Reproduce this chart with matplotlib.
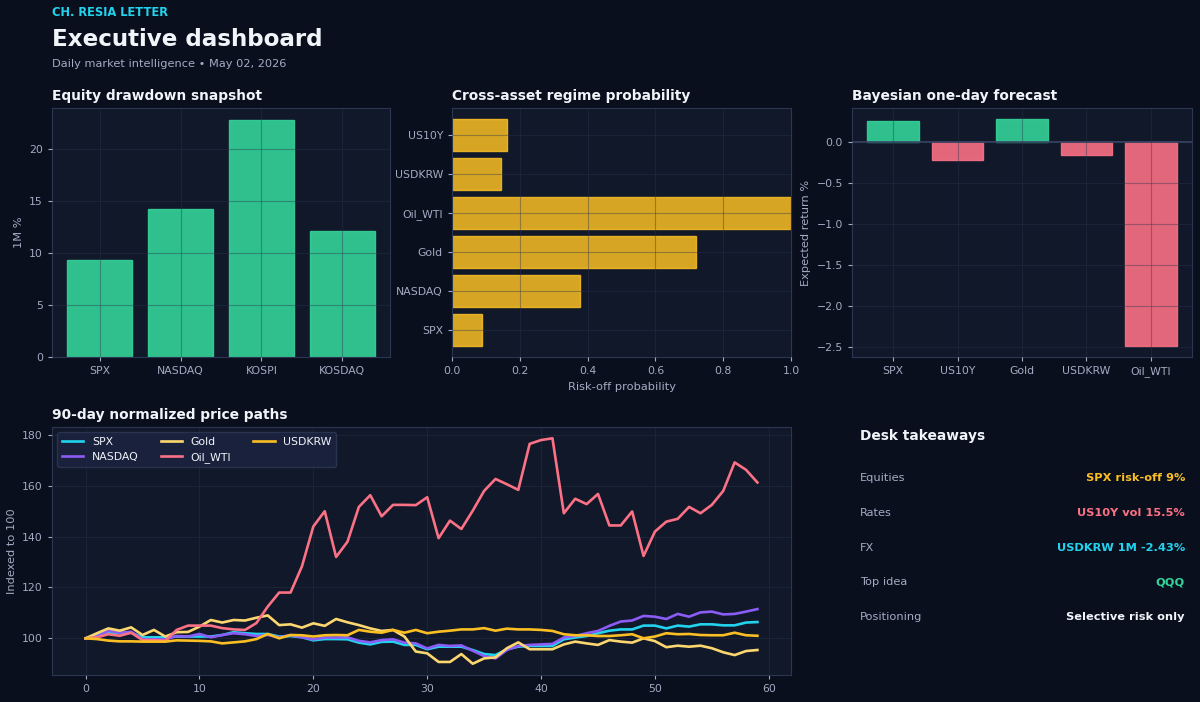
import numpy as np
import matplotlib
matplotlib.use("Agg")
import matplotlib.pyplot as plt

# ---- data ----
eq_names = ["SPX", "NASDAQ", "KOSPI", "KOSDAQ"]
eq_drawdown = [9.3, 14.2, 22.8, 12.1]

regime_names = ["SPX", "NASDAQ", "Gold", "Oil_WTI", "USDKRW", "US10Y"]
regime_prob = [0.088, 0.378, 0.72, 1.0, 0.145, 0.163]

fc_names = ["SPX", "US10Y", "Gold", "USDKRW", "Oil_WTI"]
fc_ret = [0.25, -0.22, 0.27, -0.16, -2.48]

days = list(range(60))
spx = [100, 101.3, 102.4, 102.0, 102.2, 100.4, 100.4, 100.4, 100.7, 100.7,
       100.7, 100.7, 101.3, 102.4, 102.0, 101.7, 101.7, 100.7, 100.9, 100.4,
       99.2, 99.7, 99.7, 99.6, 98.3, 97.6, 98.6, 98.7, 97.4, 97.4,
       95.7, 96.7, 96.7, 96.7, 95.4, 93.8, 93.4, 95.7, 96.7, 97.0,
       97.0, 97.0, 99.6, 100.3, 100.9, 102.0, 103.0, 103.5, 103.5, 105.0,
       105.0, 103.9, 105.0, 104.6, 105.5, 105.5, 105.1, 105.1, 106.2, 106.4]
nasdaq = [100, 100.7, 103.0, 102.2, 102.6, 99.6, 99.6, 99.6, 100.9, 100.7,
          101.7, 100.4, 101.3, 102.0, 101.6, 100.9, 101.3, 100.4, 101.3, 100.4,
          99.6, 100.3, 100.3, 100.4, 99.0, 98.4, 99.3, 99.6, 98.3, 98.0,
          96.0, 97.4, 97.0, 97.2, 95.1, 93.0, 92.1, 95.4, 97.0, 97.4,
          97.6, 97.8, 100.3, 100.9, 102.0, 102.9, 104.9, 106.6, 107.0, 108.8,
          108.5, 107.6, 109.6, 108.5, 110.2, 110.5, 109.4, 109.6, 110.5, 111.5]
gold = [100, 102.0, 103.9, 103.0, 104.3, 101.3, 103.3, 100.7, 102.4, 102.5,
        104.6, 107.2, 106.2, 107.2, 107.0, 108.1, 109.0, 105.2, 105.5, 104.2,
        105.9, 104.9, 107.6, 106.3, 105.2, 103.9, 102.9, 103.3, 100.7, 94.8,
        94.1, 90.7, 90.7, 93.8, 90.0, 92.1, 92.5, 96.1, 98.4, 95.7,
        95.7, 95.7, 97.6, 98.7, 98.0, 97.4, 99.3, 98.7, 98.3, 100.0,
        98.9, 96.5, 97.1, 96.7, 97.1, 96.1, 94.5, 93.4, 95.0, 95.4]
oil = [100, 100.4, 101.6, 101.0, 102.2, 99.3, 99.3, 99.0, 103.3, 105.0,
       105.0, 105.0, 104.0, 103.5, 103.3, 106.0, 112.5, 118.0, 118.0, 128.3,
       144.0, 150.0, 132.0, 138.0, 151.7, 156.3, 148.0, 152.5, 152.5, 152.4,
       155.5, 139.4, 146.3, 143.0, 150.2, 158.0, 162.7, 160.6, 158.4, 176.5,
       178.0, 178.7, 149.2, 154.9, 152.8, 156.8, 144.4, 144.4, 149.9, 132.4,
       142.0, 145.9, 147.0, 151.7, 149.2, 152.5, 158.0, 169.2, 166.3, 161.3]
usdkrw = [100, 99.7, 99.1, 98.8, 98.8, 98.7, 98.7, 98.7, 99.2, 99.1,
          99.0, 98.8, 98.0, 98.4, 98.8, 99.7, 101.7, 100.0, 101.3, 101.2,
          100.7, 101.2, 101.3, 101.2, 103.3, 102.6, 102.2, 103.3, 102.2, 103.3,
          102.0, 102.6, 103.0, 103.5, 103.5, 104.0, 103.0, 103.8, 103.5, 103.5,
          103.3, 102.9, 101.6, 101.2, 101.2, 100.9, 100.9, 101.2, 101.6, 100.0,
          100.7, 102.0, 101.6, 101.7, 101.3, 101.2, 101.2, 102.2, 101.2, 101.0]

take_labels = ["Equities", "Rates", "FX", "Top idea", "Positioning"]
take_values = ["SPX risk-off 9%", "US10Y vol 15.5%", "USDKRW 1M -2.43%", "QQQ",
               "Selective risk only"]

# ---- style ----
BG = "#0a0f1e"
PANEL = "#111829"
EDGE = "#2b3652"
GRID = "#2a3550"
MUTED = "#a3acc2"
WHITE = "#f1f5f9"
GREEN = "#34d399"
RED = "#fb7185"
AMBER = "#fbbf24"
CYAN = "#22d3ee"
PURPLE = "#8b5cf6"
PALE = "#fcd770"

plt.rcParams["font.family"] = ["DejaVu Sans"]
plt.rcParams["font.size"] = 8

fig = plt.figure(figsize=(12, 7.02), dpi=100, facecolor=BG)


def px_axes(l, t, r, b):
    return fig.add_axes([l / 1200, 1 - b / 702, (r - l) / 1200, (b - t) / 702])


def style(ax, title):
    ax.set_facecolor(PANEL)
    for s in ax.spines.values():
        s.set_color(EDGE)
    ax.tick_params(colors=MUTED, labelsize=7.8, length=3)
    ax.grid(True, color=GRID, linewidth=0.8, alpha=0.4)
    ax.set_axisbelow(False)
    ax.set_title(title, loc="left", color=WHITE, fontsize=9.9,
                 fontweight="bold", pad=6)


fig.text(52 / 1200, 1 - 13 / 702, "CH. RESIA LETTER", color=CYAN,
         fontsize=8.3, fontweight="bold", va="center")
fig.text(52 / 1200, 1 - 40 / 702, "Executive dashboard", color=WHITE,
         fontsize=16.6, fontweight="bold", va="center")
fig.text(52 / 1200, 1 - 64 / 702, "Daily market intelligence \u2022 May 02, 2026",
         color=MUTED, fontsize=8.2, va="center")

# equity bars
ax1 = px_axes(52, 108, 390, 357)
style(ax1, "Equity drawdown snapshot")
ax1.bar(eq_names, eq_drawdown, color=GREEN, alpha=0.9, edgecolor=GREEN)
ax1.set_ylabel("1M %", color=MUTED, fontsize=8.2)

# regime probability
ax2 = px_axes(452, 108, 791, 357)
style(ax2, "Cross-asset regime probability")
ax2.barh(regime_names, regime_prob, color=AMBER, alpha=0.85, edgecolor=AMBER)
ax2.set_xlim(0, 1)
ax2.set_xlabel("Risk-off probability", color=MUTED, fontsize=8.2)

# forecast
ax3 = px_axes(852, 108, 1192, 357)
style(ax3, "Bayesian one-day forecast")
fc_cols = [GREEN if v >= 0 else RED for v in fc_ret]
ax3.bar(fc_names, fc_ret, color=fc_cols, alpha=0.9, edgecolor=fc_cols)
ax3.axhline(0, color="#3a4868", linewidth=1.2)
ax3.set_ylabel("Expected return %", color=MUTED, fontsize=8.2)

# price paths
ax4 = px_axes(52, 427, 791, 675)
style(ax4, "90-day normalized price paths")
ax4.set_axisbelow(True)
series = [("SPX", spx, CYAN), ("NASDAQ", nasdaq, PURPLE), ("Gold", gold, PALE),
          ("Oil_WTI", oil, RED), ("USDKRW", usdkrw, AMBER)]
for name, vals, col in series:
    ax4.plot(days, vals, color=col, linewidth=1.9, label=name)
ax4.set_ylabel("Indexed to 100", color=MUTED, fontsize=8.2)
leg = ax4.legend(loc="upper left", ncol=3, fontsize=7.8, facecolor="#1a2340",
                 edgecolor=EDGE, framealpha=0.9)
for t in leg.get_texts():
    t.set_color(WHITE)

# takeaways
fig.text(860 / 1200, 1 - 436 / 702, "Desk takeaways", color=WHITE,
         fontsize=9.9, fontweight="bold", va="center")
val_cols = [AMBER, RED, CYAN, GREEN, WHITE]
for i, (lab, val) in enumerate(zip(take_labels, take_values)):
    y = 1 - (478 + i * 34.8) / 702
    fig.text(860 / 1200, y, lab, color=MUTED, fontsize=8.2, va="center")
    fig.text(1185 / 1200, y, val, color=val_cols[i], fontsize=8.2,
             fontweight="bold", va="center", ha="right")

fig.savefig("out.png", dpi=100, facecolor=BG)
